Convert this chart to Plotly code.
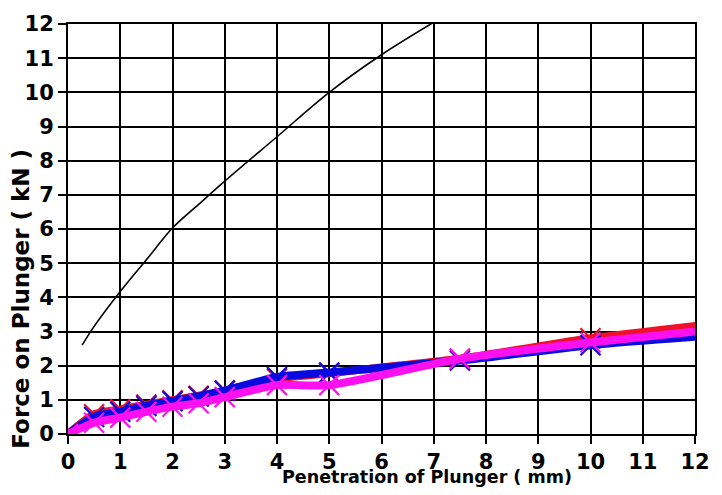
import plotly.graph_objects as go

# Standard (reference) curve
std_x = [0.27, 0.5, 1, 1.5, 2, 2.5, 3, 4, 5, 6, 7]
std_y = [2.6, 3.15, 4.17, 5.1, 6.03, 6.72, 7.4, 8.7, 10.0, 11.1, 12.05]

# Test penetrations (mm)
pen = [0, 0.5, 1, 1.5, 2, 2.5, 3, 4, 5, 7.5, 10, 12.5]
red_y = [0, 0.58, 0.72, 0.86, 0.99, 1.12, 1.27, 1.62, 1.78, 2.2, 2.8, 3.25]
blue_y = [0, 0.5, 0.65, 0.82, 0.96, 1.1, 1.27, 1.67, 1.8, 2.15, 2.6, 2.9]
mag_y = [0, 0.33, 0.48, 0.65, 0.8, 0.9, 1.08, 1.43, 1.43, 2.2, 2.68, 3.08]

x_ticks = list(range(0, 13))
y_ticks = list(range(0, 13))

FONT = "DejaVu Sans"

fig = go.Figure()

fig.add_trace(go.Scatter(x=std_x, y=std_y, mode="lines",
                         line=dict(color="black", width=1.6, shape="spline"),
                         showlegend=False))

series = [
    (red_y, "#f0102a", "#a83848"),
    (blue_y, "#0a0ae0", "#6878d8"),
    (mag_y, "#ff10f0", "#a858c8"),
]
for ys, lc, mc in series:
    fig.add_trace(go.Scatter(x=pen, y=ys, mode="lines+markers",
                             line=dict(color=lc, width=8, shape="spline", smoothing=0.6),
                             marker=dict(symbol="x-thin-open", size=20,
                                         line=dict(color=mc, width=2.2)),
                             showlegend=False))

axis_common = dict(
    showgrid=True, gridcolor="black", gridwidth=2,
    showline=True, linecolor="black", linewidth=2, mirror=True,
    ticks="outside", ticklen=8, tickwidth=2, tickcolor="black",
    zeroline=False,
    tickfont=dict(family=FONT, size=21, color="black", weight="bold"),
)

fig.update_xaxes(range=[0, 12], tickvals=x_ticks, ticktext=[str(v) for v in x_ticks],
                 **axis_common)
fig.update_yaxes(range=[0, 12], tickvals=y_ticks, ticktext=[str(v) for v in y_ticks],
                 **axis_common)

fig.add_annotation(text="Penetration of Plunger ( mm)", xref="paper", yref="paper",
                   x=0.573, y=0, yshift=-43, showarrow=False,
                   xanchor="center", yanchor="middle",
                   font=dict(family=FONT, size=17.5, color="black", weight="bold"))
fig.add_annotation(text="Force on Plunger ( kN )", xref="paper", yref="paper",
                   x=0, xshift=-47, y=0.33, textangle=-90, showarrow=False,
                   xanchor="center", yanchor="middle",
                   font=dict(family=FONT, size=23, color="black", weight="bold"))

fig.update_layout(
    width=722, height=495,
    margin=dict(l=68, r=19, t=16, b=61),
    plot_bgcolor="white", paper_bgcolor="white",
)

fig.write_html("out.html")
